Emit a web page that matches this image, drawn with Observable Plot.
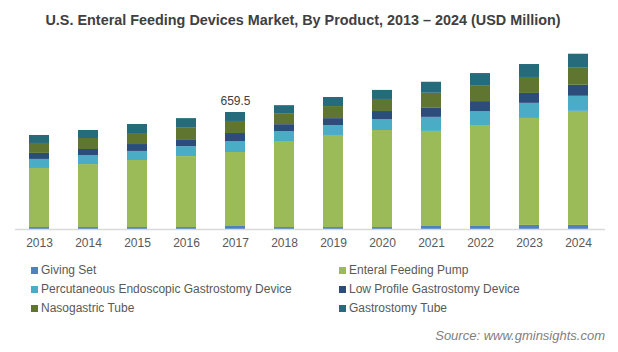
<!DOCTYPE html>
<html>
<head>
<meta charset="utf-8">
<script src="https://cdn.jsdelivr.net/npm/d3@7"></script>
<script src="https://cdn.jsdelivr.net/npm/@observablehq/plot@0.6"></script>
<style>
  html, body { margin: 0; padding: 0; background: #fff; }
  body { width: 618px; height: 352px; overflow: hidden; font-family: "Liberation Sans", Arial, sans-serif; }
  #title { height: 38px; line-height: 40px; text-align: center; font-weight: bold; font-size: 14.4px; color: #404040; padding-right: 12px; }
  #chart svg { display: block; }
  #legend { position: relative; height: 70px; font-size: 12px; color: #595959; }
  .item { position: absolute; display: flex; align-items: center; height: 16px; }
  .sw { width: 7px; height: 7px; margin-right: 3px; }
  #source { position: absolute; right: 13px; top: 328px; font-style: italic; font-size: 13px; color: #808080; }
</style>
</head>
<body>
<div id="title">U.S. Enteral Feeding Devices Market, By Product, 2013 – 2024 (USD Million)</div>
<div id="chart"></div>
<div id="legend"></div>
<div id="source">Source: www.gminsights.com</div>
<script>
const years = ["2013","2014","2015","2016","2017","2018","2019","2020","2021","2022","2023","2024"];
const products = ["Giving Set","Enteral Feeding Pump","Percutaneous Endoscopic Gastrostomy Device","Low Profile Gastrostomy Device","Nasogastric Tube","Gastrostomy Tube"];
const colors = ["#4f81bd","#9bbb59","#4bacc6","#2c4d7a","#5f7530","#256b7c"];
const givingSet   = [11, 11, 11, 11, 17, 11, 11, 11, 17, 17, 23, 23];
const feedingPump = [333, 355, 378, 400, 417, 485, 519, 547, 536, 569, 603, 643];
const pegDevice   = [51, 51, 51, 56, 62, 56, 56, 62, 79, 79, 85, 85];
const lowProfile  = [34, 34, 39, 39, 45, 39, 39, 45, 51, 56, 56, 62];
const nasogastric = [56, 62, 62, 68, 68, 62, 68, 68, 85, 90, 90, 96];
const gastrostomy = [45, 45, 51, 51, 50.5, 45, 51, 51, 62, 68, 73, 79];
const annotations = [{year: "2017", label: "659.5"}];

const series = [givingSet, feedingPump, pegDevice, lowProfile, nasogastric, gastrostomy];
const data = [];
years.forEach((y, i) => products.forEach((p, j) => data.push({year: y, product: p, value: series[j][i]})));
const totals = years.map((y, i) => series.reduce((s, a) => s + a[i], 0));
const labelData = annotations.map(a => ({year: a.year, label: a.label, total: totals[years.indexOf(a.year)]}));

const chart = Plot.plot({
  width: 618,
  height: 217,
  marginLeft: 0,
  marginRight: 1,
  marginTop: 13.6,
  marginBottom: 26,
  style: {fontFamily: "'Liberation Sans', Arial, sans-serif", background: "#fff"},
  x: {domain: years, padding: 0.59, label: null},
  y: {domain: [0, 1000], axis: null},
  color: {domain: products, range: colors},
  marks: [
    Plot.barY(data, {x: "year", y: "value", fill: "product", order: products}),
    Plot.ruleY([0], {stroke: "#d9d9d9", strokeWidth: 1.5, insetLeft: 15, insetRight: 12}),
    Plot.axisX({tickSize: 0, tickPadding: 9, fontSize: 12, color: "#595959", label: null}),
    Plot.text(labelData, {x: "year", y: "total", text: "label", dy: -11, fontSize: 12, fill: "#404040"})
  ]
});
document.getElementById("chart").appendChild(chart);

const legend = document.getElementById("legend");
const pos = [[31, 7], [339, 7], [31, 26], [339, 26], [31, 45], [339, 45]];
products.forEach((p, i) => {
  const d = document.createElement("div");
  d.className = "item";
  d.style.left = pos[i][0] + "px";
  d.style.top = pos[i][1] + "px";
  d.innerHTML = `<span class="sw" style="background:${colors[i]}"></span><span>${p}</span>`;
  legend.appendChild(d);
});
</script>
</body>
</html>
